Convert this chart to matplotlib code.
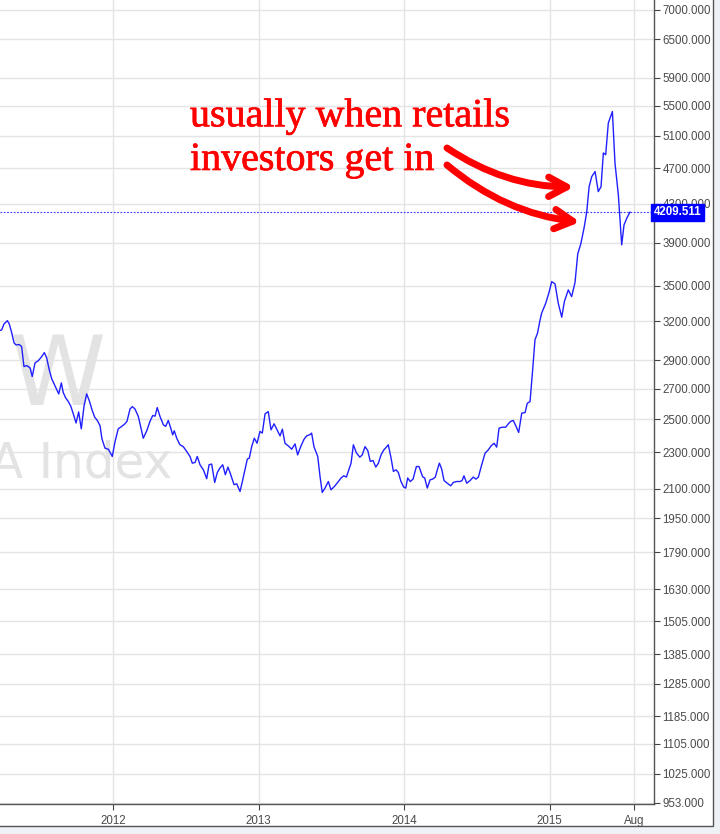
import matplotlib
matplotlib.use("Agg")
import matplotlib.pyplot as plt
import matplotlib.patheffects as pe
from matplotlib.patches import Rectangle
from matplotlib.ticker import FixedLocator, FormatStrFormatter, NullLocator

# weekly closes (decimal year, index level)
years = [
    2011.223, 2011.235, 2011.251, 2011.274, 2011.287, 2011.304, 2011.320, 2011.333, 2011.356, 2011.372,
    2011.388, 2011.407, 2011.430, 2011.445, 2011.464, 2011.487, 2011.510, 2011.528, 2011.544, 2011.562,
    2011.579, 2011.595, 2011.608, 2011.627, 2011.645, 2011.658, 2011.675, 2011.693, 2011.709, 2011.727,
    2011.746, 2011.764, 2011.782, 2011.801, 2011.819, 2011.837, 2011.856, 2011.874, 2011.892, 2011.911,
    2011.924,
    2011.945, 2011.968, 2011.995, 2012.014, 2012.036, 2012.060, 2012.082, 2012.096, 2012.117, 2012.133,
    2012.151, 2012.174, 2012.192, 2012.208, 2012.232, 2012.254, 2012.273, 2012.289, 2012.304, 2012.323,
    2012.346, 2012.362, 2012.380, 2012.397, 2012.410, 2012.421, 2012.438, 2012.460, 2012.483, 2012.507,
    2012.529, 2012.545, 2012.564, 2012.579, 2012.598, 2012.621, 2012.644, 2012.660, 2012.678,
    2012.699, 2012.717, 2012.735, 2012.754, 2012.772, 2012.790, 2012.809, 2012.832, 2012.850, 2012.873,
    2012.889, 2012.907, 2012.923, 2012.937, 2012.953, 2012.971, 2012.990, 2013.010, 2013.026, 2013.045,
    2013.067, 2013.086, 2013.107, 2013.125, 2013.148, 2013.164, 2013.182, 2013.205, 2013.228, 2013.251,
    2013.269, 2013.290, 2013.313, 2013.331, 2013.354, 2013.365, 2013.381,
    2013.407, 2013.423, 2013.438, 2013.457, 2013.480, 2013.498, 2013.521, 2013.544, 2013.567, 2013.586,
    2013.604, 2013.617, 2013.636, 2013.652, 2013.672, 2013.696, 2013.713, 2013.732, 2013.751, 2013.768,
    2013.787, 2013.806, 2013.824, 2013.842, 2013.861, 2013.879, 2013.892, 2013.911, 2013.927, 2013.945,
    2013.961, 2013.979, 2013.998, 2014.012, 2014.025, 2014.043, 2014.062, 2014.085, 2014.103,
    2014.128, 2014.142, 2014.160, 2014.179, 2014.197, 2014.215, 2014.229, 2014.243, 2014.259, 2014.275,
    2014.297, 2014.321, 2014.339, 2014.362, 2014.385, 2014.399, 2014.412, 2014.431, 2014.454, 2014.476,
    2014.495, 2014.511, 2014.534, 2014.557, 2014.579, 2014.598, 2014.619, 2014.637, 2014.653, 2014.676,
    2014.699, 2014.717, 2014.733, 2014.751, 2014.770, 2014.788, 2014.809, 2014.832, 2014.847, 2014.866,
    2014.883, 2014.900, 2014.918, 2014.935, 2014.946, 2014.974, 2014.996, 2015.015, 2015.038, 2015.060,
    2015.084, 2015.102, 2015.129, 2015.152, 2015.175, 2015.194, 2015.216, 2015.239, 2015.256, 2015.272,
    2015.290, 2015.313, 2015.335, 2015.354, 2015.370, 2015.386, 2015.404, 2015.432, 2015.450, 2015.473,
    2015.496, 2015.512, 2015.531, 2015.553,
]
index_level = [
    3126, 3131, 3178, 3204, 3178, 3108, 3030, 3015, 3017, 3002,
    2855, 2862, 2845, 2784, 2881, 2898, 2927, 2957, 2918, 2831,
    2768, 2733, 2706, 2665, 2740, 2674, 2638, 2614, 2586, 2535,
    2477, 2547, 2441, 2586, 2665, 2620, 2560, 2514, 2493, 2460,
    2380,
    2325, 2319, 2277, 2364, 2441, 2456, 2472, 2487, 2566, 2581,
    2566, 2518, 2445, 2384, 2429, 2487, 2524, 2520, 2575, 2518,
    2466, 2456, 2493, 2445, 2404, 2429, 2384, 2345, 2334, 2305,
    2277, 2239, 2243, 2277, 2230, 2202, 2153, 2230, 2234,
    2133, 2187, 2212, 2230, 2175, 2217, 2175, 2121, 2126, 2085,
    2138, 2202, 2262, 2268, 2334, 2384, 2354, 2425, 2415, 2535,
    2549, 2435, 2472, 2439, 2398, 2439, 2354, 2338, 2319, 2350,
    2286, 2334, 2378, 2398, 2406, 2415, 2334,
    2277, 2164, 2080, 2103, 2138, 2094, 2111, 2133, 2157, 2169,
    2162, 2193, 2239, 2345, 2299, 2273, 2286, 2334, 2311, 2249,
    2254, 2217, 2239, 2286, 2315, 2331, 2345, 2268, 2193, 2202,
    2187, 2138, 2108, 2103, 2157, 2138, 2151, 2220, 2220,
    2164, 2157, 2103, 2147, 2151, 2162, 2202, 2239, 2206, 2143,
    2129, 2115, 2133, 2138, 2138, 2143, 2169, 2129, 2143, 2162,
    2151, 2162, 2230, 2296, 2315, 2338, 2354, 2331, 2445, 2451,
    2451, 2472, 2487, 2493, 2456, 2419, 2539, 2543, 2603, 2614,
    2817, 3053, 3108, 3210, 3266, 3348, 3438, 3535, 3514, 3348,
    3232, 3362, 3462, 3404, 3526, 3790, 3893, 4059, 4215, 4488,
    4603, 4662, 4433, 4488, 4886, 4864, 5267, 5422, 4760, 4397,
    3877, 4077, 4147, 4209.511,
]

last_close = 4209.511
y_ticks = [953, 1025, 1105, 1185, 1285, 1385, 1505, 1630, 1790, 1950, 2100, 2300,
           2500, 2700, 2900, 3200, 3500, 3900, 4300, 4700, 5100, 5500, 5900, 6500, 7000]
x_ticks = [2012, 2013, 2014, 2015, 2015 + 212 / 365]
x_tick_labels = ["2012", "2013", "2014", "2015", "Aug"]

note = "usually when retails\ninvestors get in"

W, H = 720, 834
fig = plt.figure(figsize=(W / 100, H / 100), dpi=100, facecolor="#eef1f5")
# white card with thin frame, grey strip right / bottom
fig.patches.append(Rectangle((-2 / W, 8 / H), 715 / W, 1.0, transform=fig.transFigure,
                             facecolor="white", edgecolor="#555555", lw=1, zorder=-5))

ax = fig.add_axes([0, 30 / H, 654 / W, 804 / H])
ax.set_facecolor("white")

ax.plot(years, index_level, color="#2020ff", lw=1.0, zorder=4)

# dotted last-price line + label on the price axis
ax.axhline(last_close, color="#3030ff", lw=0.8, ls=(0, (1.5, 1.5)), zorder=3)
ax.text(1.0, last_close, f"{last_close:.3f}", transform=ax.get_yaxis_transform(),
        ha="left", va="center", color="white", fontsize=8.3, fontweight="bold",
        family="Liberation Sans", clip_on=False, zorder=10,
        bbox=dict(boxstyle="square,pad=0.22", facecolor="#0000ff", edgecolor="#0000ff"))

ax.set_yscale("log")
ax.set_ylim(950, 7178)
ax.set_xlim(2011.2234, 2015.718)

ax.yaxis.tick_right()
ax.yaxis.set_major_locator(FixedLocator(y_ticks))
ax.yaxis.set_major_formatter(FormatStrFormatter("%.3f"))
ax.yaxis.set_minor_locator(NullLocator())
ax.set_xticks(x_ticks)
ax.set_xticklabels(x_tick_labels)
ax.tick_params(axis="both", colors="#444444", labelcolor="#4a4a4a", length=4, width=0.8,
               labelsize=8.3, pad=2)
for lab in ax.get_xticklabels() + ax.get_yticklabels():
    lab.set_family("Liberation Sans")
ax.tick_params(axis="x", pad=4)

ax.grid(True, color="#e4e4e4", lw=1)
ax.set_axisbelow(True)
for side in ["left", "top"]:
    ax.spines[side].set_visible(False)
for side in ["right", "bottom"]:
    ax.spines[side].set_color("#555555")
    ax.spines[side].set_linewidth(1)

# faint symbol watermark
ax.text(10 / 654, 1 - 405 / 804, "W", transform=ax.transAxes, fontsize=70, color="#e3e3e3",
        family="DejaVu Sans", ha="left", va="baseline", zorder=1)
ax.text(-10 / 654, 1 - 478 / 804, "A Index", transform=ax.transAxes, fontsize=35, color="#e3e3e3",
        family="DejaVu Sans", ha="left", va="baseline", zorder=1)

# hand-written note with two arrows
fig.text(190 / W, 1 - 170 / H, note, fontsize=28.8, color="#ff0000", family="Liberation Serif",
         ha="left", va="baseline", linespacing=1.24,
         path_effects=[pe.withStroke(linewidth=0.5, foreground="#ff0000")])
for start, tip in [((447, 148), (574, 187)), ((447, 165), (580, 222))]:
    ax.annotate("", xy=(tip[0], H - tip[1]), xytext=(start[0], H - start[1]),
                xycoords="figure pixels", textcoords="figure pixels",
                arrowprops=dict(arrowstyle="->,head_length=1.3,head_width=0.7", color="#ff0000",
                                lw=5, shrinkA=0, shrinkB=0, capstyle="round",
                                connectionstyle="arc3,rad=0.15"),
                zorder=6)

fig.savefig("out.png", dpi=100, facecolor=fig.get_facecolor())
